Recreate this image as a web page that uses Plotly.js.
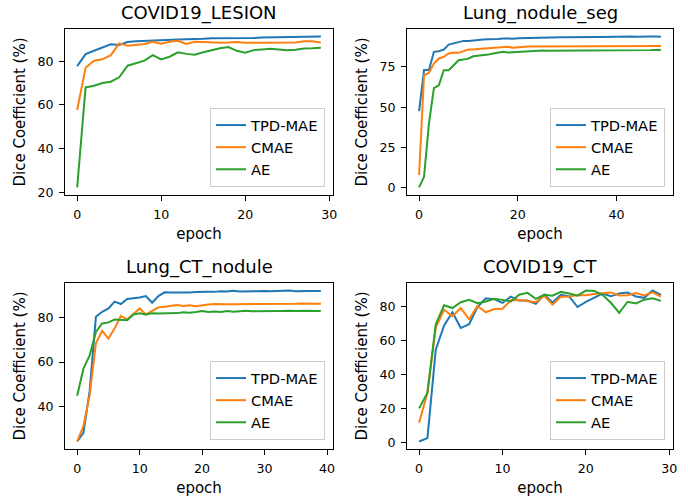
<!DOCTYPE html>
<html>
<head>
<meta charset="utf-8">
<script src="https://cdn.plot.ly/plotly-3.0.1.min.js"></script>
<style>html,body{margin:0;padding:0;background:#fff;}#chart{width:688px;height:497px;}</style>
</head>
<body>
<div id="chart"></div>
<script>
// ---- data ----
const seriesNames = ["TPD-MAE", "CMAE", "AE"];
const panelTitles = ["COVID19_LESION", "Lung_nodule_seg", "Lung_CT_nodule", "COVID19_CT"];

const lesionTPD = [77.7, 83.2, 84.7, 86.2, 87.7, 87.4, 88.7, 89.1, 89.3, 89.6, 89.7, 89.8, 89.9, 90.0, 90.0, 90.2, 90.4, 90.4, 90.5, 90.6, 90.6, 90.5, 90.8, 90.9, 90.9, 90.9, 91.0, 91.0, 91.2, 91.2];
const lesionCMAE = [57.7, 77.0, 80.2, 80.8, 82.7, 88.1, 87.0, 87.4, 87.8, 88.8, 87.9, 88.8, 89.3, 87.8, 88.8, 88.7, 88.5, 88.4, 88.5, 88.7, 88.4, 88.4, 88.4, 88.7, 88.7, 88.5, 88.5, 89.0, 89.0, 88.5];
const lesionAE = [22.4, 68.0, 68.8, 70.0, 70.6, 72.6, 77.9, 78.9, 80.2, 82.7, 80.8, 82.0, 84.0, 83.3, 82.9, 84.0, 85.0, 85.9, 86.4, 84.7, 83.8, 85.0, 85.3, 85.6, 85.3, 85.0, 85.2, 85.8, 85.9, 86.1];

const noduleSegTPD = [47.5, 73.0, 73.0, 84.3, 84.7, 85.7, 88.8, 89.5, 90.3, 91.1, 91.1, 91.5, 91.7, 91.9, 92.1, 92.1, 92.3, 92.6, 92.4, 92.5, 92.8, 92.9, 93.0, 93.1, 93.2, 93.4, 93.3, 93.2, 93.4, 93.4, 93.3, 93.4, 93.5, 93.4, 93.5, 93.6, 93.5, 93.5, 93.6, 93.7, 93.6, 93.6, 93.7, 93.8, 93.7, 93.6, 93.7, 93.8, 93.8, 93.7];
const noduleSegCMAE = [7.9, 69.8, 71.3, 77.0, 80.2, 81.2, 83.3, 83.9, 83.7, 84.9, 85.7, 85.7, 86.2, 86.4, 86.6, 86.8, 87.0, 87.4, 87.4, 86.9, 87.2, 87.6, 87.6, 87.7, 87.7, 87.9, 87.7, 87.6, 87.8, 87.7, 87.8, 87.7, 87.8, 87.9, 87.8, 87.7, 87.8, 87.8, 87.7, 87.9, 87.8, 87.8, 87.9, 87.8, 87.8, 87.9, 87.8, 87.8, 87.9, 87.9];
const noduleSegAE = [0.2, 6.8, 40.0, 61.8, 63.6, 72.9, 72.9, 76.0, 79.1, 79.5, 80.2, 81.6, 81.8, 82.2, 82.6, 83.3, 83.7, 84.3, 83.9, 84.1, 84.5, 84.7, 84.8, 84.9, 85.0, 85.1, 85.0, 85.0, 85.1, 85.0, 85.1, 85.1, 85.2, 85.1, 85.2, 85.2, 85.1, 85.2, 85.3, 85.2, 85.3, 85.3, 85.4, 85.3, 85.3, 85.4, 85.4, 85.4, 85.5, 85.5];

const ctNoduleTPD = [24.1, 28.0, 47.0, 80.5, 82.7, 84.2, 87.3, 86.2, 88.5, 88.8, 89.2, 89.8, 86.8, 89.8, 91.5, 91.4, 91.3, 91.4, 91.4, 91.6, 91.8, 91.8, 91.7, 92.0, 91.9, 92.2, 91.9, 92.0, 92.0, 92.0, 92.1, 92.0, 92.2, 92.1, 92.3, 92.0, 92.2, 92.1, 92.1, 92.1];
const ctNoduleCMAE = [24.1, 31.0, 45.0, 68.5, 74.1, 70.6, 75.2, 80.8, 79.2, 81.7, 84.2, 81.5, 83.2, 84.7, 85.0, 85.5, 85.8, 85.3, 85.6, 85.2, 85.7, 86.0, 86.2, 86.0, 86.1, 86.1, 86.1, 86.2, 86.1, 86.2, 86.2, 86.1, 86.2, 86.2, 86.0, 86.3, 86.4, 86.2, 86.3, 86.3];
const ctNoduleAE = [44.8, 57.0, 63.0, 73.6, 77.4, 77.9, 79.2, 78.9, 78.9, 81.5, 82.0, 81.5, 82.0, 81.9, 81.9, 82.0, 82.1, 82.5, 82.3, 82.6, 83.0, 82.6, 82.8, 82.6, 83.0, 82.7, 82.8, 83.2, 82.9, 83.0, 82.8, 83.0, 83.1, 83.0, 83.2, 83.0, 83.2, 83.2, 83.1, 83.0];

const covidCtTPD = [0.4, 2.4, 54.5, 68.7, 76.5, 67.2, 69.5, 79.5, 84.7, 84.2, 82.0, 85.7, 83.4, 83.4, 81.5, 86.8, 82.2, 86.8, 85.8, 79.6, 82.6, 85.2, 87.5, 85.9, 87.6, 88.2, 85.8, 85.0, 89.3, 86.8];
const covidCtCMAE = [11.4, 29.1, 67.5, 78.0, 74.2, 79.0, 72.4, 80.2, 76.5, 78.4, 78.6, 83.6, 83.7, 82.9, 82.4, 86.2, 81.0, 85.6, 85.8, 86.6, 86.6, 87.2, 87.8, 88.2, 86.4, 86.6, 87.8, 86.4, 88.2, 85.8];
const covidCtAE = [19.9, 29.1, 69.5, 80.6, 79.0, 82.4, 83.9, 81.8, 82.9, 84.4, 83.8, 82.9, 86.8, 88.0, 84.4, 86.8, 86.3, 88.5, 87.6, 86.3, 89.3, 89.1, 86.8, 82.1, 76.2, 82.7, 81.7, 83.9, 84.8, 83.2];

const xTicks = [[0, 10, 20, 30], [0, 20, 40], [0, 10, 20, 30, 40], [0, 10, 20, 30]];
const yTicks = [[20, 40, 60, 80], [0, 25, 50, 75], [40, 60, 80], [0, 20, 40, 60, 80]];

const xLabel = "epoch";
const yLabel = "Dice Coefficient (%)";

// ---- layout ----
const panels = [
  [lesionTPD, lesionCMAE, lesionAE],
  [noduleSegTPD, noduleSegCMAE, noduleSegAE],
  [ctNoduleTPD, ctNoduleCMAE, ctNoduleAE],
  [covidCtTPD, covidCtCMAE, covidCtAE]
];
const colors = ["#1f77b4", "#ff7f0e", "#2ca02c"];
const W = 688, H = 497;
const xDom = [[65 / W, 333 / W], [407 / W, 673 / W]];
const yDom = [[1 - 195 / H, 1 - 29 / H], [1 - 449 / H, 1 - 283 / H]];
const FONT = "DejaVu Sans, Liberation Sans, sans-serif";

const traces = [];
const layout = {
  width: W, height: H,
  margin: {l: 0, r: 0, t: 0, b: 0},
  paper_bgcolor: "#fff", plot_bgcolor: "#fff",
  font: {family: FONT, color: "#000", size: 13},
  showlegend: true,
  annotations: []
};

panels.forEach((series, p) => {
  const col = p % 2, row = Math.floor(p / 2);
  const sfx = p === 0 ? "" : String(p + 1);
  const n = series[0].length;
  const xs = Array.from({length: n}, (_, i) => i);
  let lo = Infinity, hi = -Infinity;
  series.forEach(s => s.forEach(v => { lo = Math.min(lo, v); hi = Math.max(hi, v); }));
  const ym = (hi - lo) * 0.05, xm = (n - 1) * 0.05;
  const legName = "legend" + sfx;
  series.forEach((s, k) => {
    traces.push({
      x: xs, y: s, type: "scatter", mode: "lines", name: seriesNames[k],
      line: {color: colors[k], width: 2},
      xaxis: "x" + sfx, yaxis: "y" + sfx,
      legend: legName, legendgroup: "g" + p + "_" + k
    });
  });
  const axCommon = {
    showline: true, mirror: true, linecolor: "#000", linewidth: 1,
    ticks: "outside", ticklen: 5, tickwidth: 1, tickcolor: "#000",
    showgrid: false, zeroline: false, fixedrange: true,
    tickfont: {family: FONT, size: 12.6, color: "#000"},
    automargin: false, ticklabelstandoff: 3
  };
  layout["xaxis" + sfx] = Object.assign({}, axCommon, {
    domain: xDom[col], anchor: "y" + sfx,
    range: [-xm, n - 1 + xm],
    tickmode: "array", tickvals: xTicks[p], ticktext: xTicks[p].map(String),
    title: {text: xLabel, font: {family: FONT, size: 15, color: "#000"}, standoff: 7}
  });
  layout["yaxis" + sfx] = Object.assign({}, axCommon, {
    domain: yDom[row], anchor: "x" + sfx,
    range: [lo - ym, hi + ym],
    tickmode: "array", tickvals: yTicks[p], ticktext: yTicks[p].map(String),
    title: {text: yLabel, font: {family: FONT, size: 15, color: "#000"}, standoff: 8}
  });
  layout[legName] = {
    x: (col === 0 ? 325 : 665) / W,
    y: row === 0 ? 1 - 187 / H : 1 - 440 / H,
    xanchor: "right", yanchor: "bottom",
    bgcolor: "rgba(255,255,255,0.8)", bordercolor: "#cccccc", borderwidth: 1,
    font: {family: FONT, size: 14.7, color: "#000"},
    tracegroupgap: 0
  };
  layout.annotations.push({
    text: panelTitles[p], xref: "paper", yref: "paper",
    x: (xDom[col][0] + xDom[col][1]) / 2, y: yDom[row][1],
    xanchor: "center", yanchor: "bottom", yshift: 3, showarrow: false,
    font: {family: FONT, size: 18, color: "#000"}
  });
});

Plotly.newPlot("chart", traces, layout, {displayModeBar: false, staticPlot: true});
</script>
</body>
</html>
